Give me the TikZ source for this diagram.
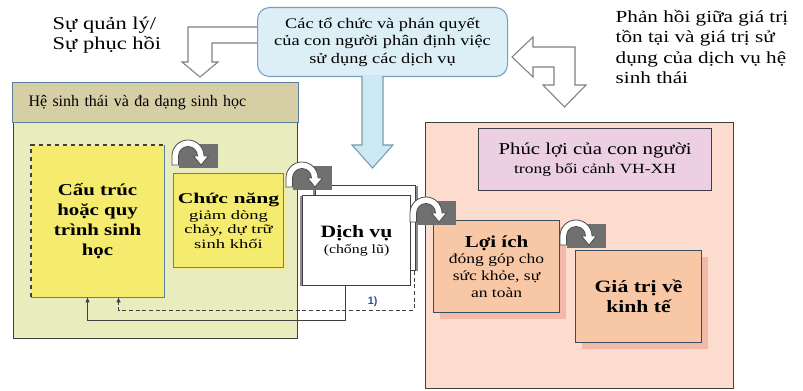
\documentclass[tikz,border=0pt]{standalone}
\usepackage{fontspec}
\setmainfont[FakeStretch=1.25]{Liberation Serif}
\newfontfamily\plainserif{Liberation Serif}
\newfontfamily\widerserif[FakeStretch=1.45]{Liberation Serif}
\setsansfont{Liberation Sans}
\usepackage{xcolor}
\usepackage{tikz}
\usetikzlibrary{arrows.meta,calc,positioning,shadows}
\definecolor{edgegrey}{RGB}{64,64,64}
\definecolor{outlinegrey}{RGB}{128,128,128}
\definecolor{icongrey}{RGB}{112,112,112}
\definecolor{ecogreen}{RGB}{233,237,190}
\definecolor{ecokhaki}{RGB}{214,207,166}
\definecolor{steelblue}{RGB}{92,128,160}
\definecolor{bioyellow}{RGB}{245,235,110}
\definecolor{paleyellow}{RGB}{238,236,168}
\definecolor{ruleblue}{RGB}{220,238,246}
\definecolor{ruleedge}{RGB}{118,160,198}
\definecolor{arrowblue}{RGB}{204,232,242}
\definecolor{arrowedge}{RGB}{120,156,176}
\definecolor{wellpink}{RGB}{251,220,207}
\definecolor{welllilac}{RGB}{236,207,227}
\definecolor{benefitpeach}{RGB}{248,200,166}
\definecolor{benefitshade}{RGB}{244,184,168}
\definecolor{tagblue}{RGB}{36,76,160}
\tikzset{
  panel/.style={anchor=north west,inner sep=0pt,draw=edgegrey,thick,align=center},
  ecopanel/.style={panel,fill=ecogreen},
  ecotitle/.style={anchor=north west,draw=steelblue,thick,fill=ecokhaki,
    minimum height=30pt,text width=190.5pt,inner xsep=12pt,align=left,
    font=\plainserif\fontsize{12}{14}\selectfont},
  biobox/.style={panel,draw=none,fill=bioyellow,
    font=\bfseries\fontsize{12.5}{15}\selectfont},
  funcbox/.style={panel,draw=steelblue,fill=bioyellow,
    drop shadow={fill=paleyellow,shadow xshift=3pt,shadow yshift=-3pt,opacity=1},
    font=\widerserif\fontsize{9.6}{11}\selectfont},
  servbox/.style={panel,draw=edgegrey,fill=white,
    drop shadow={fill=black!45,shadow xshift=-2pt,shadow yshift=0pt,opacity=1},
    font=\fontsize{9.5}{12}\selectfont},
  rulebox/.style={anchor=north west,draw=ruleedge,thick,fill=ruleblue,
    rounded corners=9pt,align=center,inner sep=0pt,
    font=\fontsize{11}{13}\selectfont},
  wellpanel/.style={panel,fill=wellpink},
  welltitle/.style={panel,fill=welllilac,font=\fontsize{12.5}{14}\selectfont},
  gainbox/.style={panel,draw=steelblue!60!black,fill=benefitpeach,
    drop shadow={fill=benefitshade,shadow xshift=5pt,shadow yshift=-4.5pt,opacity=1},
    font=\fontsize{10.5}{12.5}\selectfont},
  blockarrow/.style={fill=white,draw=outlinegrey,line width=0.8pt,line join=miter},
  link/.style={draw=edgegrey,line width=0.7pt,-{Latex[length=4pt,width=3.5pt]}},
  tag/.style={text=tagblue,font=\sffamily\bfseries\fontsize{8}{9}\selectfont,inner sep=1pt},
  note/.style={align=left},
  turnarrow/.pic={
    \fill[icongrey] (7,-21) rectangle (46,3);
    \filldraw[fill=white,draw=black!70,line width=0.6pt]
      (0,0) -- (0,-9) arc[start angle=180,end angle=360,radius=16]
      -- (36.5,-9) -- (29,0) -- (21.5,-9) -- (25.5,-9)
      arc[start angle=0,end angle=-180,radius=9.5] -- (6.5,0) -- cycle;
  }
}

\begin{document}
\begin{tikzpicture}[x=0.75pt,y=-0.75pt]
  \useasboundingbox (0,0) rectangle (803,391);

  % left panel: ecosystem
  \node[ecopanel,minimum width=213pt,minimum height=192pt] (eco) at (13,82) {};
  \node[ecotitle] (ecohead) at (12,82) {Hệ sinh thái và đa dạng sinh học};
  \node[biobox,minimum width=99pt,minimum height=113.25pt] (struct) at (31,145)
    {Cấu trúc\\hoặc quy\\trình sinh\\học};
  \draw[edgegrey,thick,dashed] (struct.south west) |- (struct.north east);
  \draw[steelblue,thick] (struct.north east) |- (struct.south west);
  \node[funcbox,minimum width=82.5pt,minimum height=70.5pt] (func) at (173,173)
    {{\bfseries\fontsize{11.2}{13}\selectfont Chức năng}\\[1pt]giảm dòng\\chảy, dự trữ\\sinh khối};

  % service, stacked
  \node[servbox,drop shadow={fill=black!45,shadow xshift=2pt,shadow yshift=0pt,opacity=1},
    minimum width=75pt,minimum height=63.75pt] (servback) at (315,185) {};
  \node[servbox,minimum width=81pt,minimum height=67.5pt] (service) at (302,195)
    {{\bfseries\fontsize{13}{15}\selectfont Dịch vụ}\\(chống lũ)};

  % right panel: wellbeing
  \node[wellpanel,minimum width=231pt,minimum height=199.5pt] (well) at (425,122) {};
  \node[welltitle,minimum width=174.75pt,minimum height=46.5pt] (wellhead) at (478,128)
    {Phúc lợi của con người\\{\fontsize{10.5}{12}\selectfont trong bối cảnh VH-XH}};
  \node[gainbox,minimum width=94.5pt,minimum height=69pt] (benefit) at (433,220)
    {{\bfseries\fontsize{12.6}{15}\selectfont Lợi ích}\\đóng góp cho\\sức khỏe, sự\\an toàn};
  \node[gainbox,minimum width=94.5pt,minimum height=69pt,
    font=\bfseries\fontsize{13}{15}\selectfont] (econ) at (575,250)
    {Giá trị về\\kinh tế};

  % feedback lines
  \draw[link] ([xshift=-8.25pt]service.south) -- ++(0,34)
    -| ([xshift=-7.5pt]struct.south);
  \draw[link,densely dashed] ([xshift=-1.5pt]servback.south east) -- ++(0,39)
    -| node[tag,pos=0.07,above=1pt] (one) {1)} ([xshift=15.75pt]struct.south);

  % block arrows
  \draw[blockarrow] (266,27) -- (188,27) -- (188,62) -- (182,62) -- (200,77)
    -- (218,62) -- (212,62) -- (212,43) -- (266,43) -- cycle;
  \draw[blockarrow] (512,57) -- (533,37) -- (533,47) -- (575,47) -- (575,85)
    -- (586,85) -- (564.5,107) -- (543,85) -- (554,85) -- (554,67)
    -- (533,67) -- (533,77) -- cycle;
  \node[rulebox,minimum width=187.5pt,minimum height=51.75pt] (rules) at (257,7)
    {Các tổ chức và phán quyết\\của con người phân định việc\\sử dụng các dịch vụ};
  \draw[blockarrow,fill=arrowblue,draw=arrowedge] (362,76) -- (362,145)
    -- (352,145) -- (372.5,168) -- (393,145) -- (383,145) -- (383,76);

  % turn icons
  \pic at (172,165) {turnarrow};
  \pic at (286,187) {turnarrow};
  \pic at (410,222) {turnarrow};
  \pic at (560,245) {turnarrow};

  % side notes
  \node[note,anchor=west,font=\fontsize{13.5}{15}\selectfont] (mgmt) at (48,35)
    {Sự quản lý/\\Sự phục hồi};
  \node[note,anchor=west,font=\fontsize{12.7}{15.2}\selectfont] (feedback) at (611,47)
    {Phản hồi giữa giá trị\\tồn tại và giá trị sử\\dụng của dịch vụ hệ\\sinh thái};
\end{tikzpicture}
\end{document}
